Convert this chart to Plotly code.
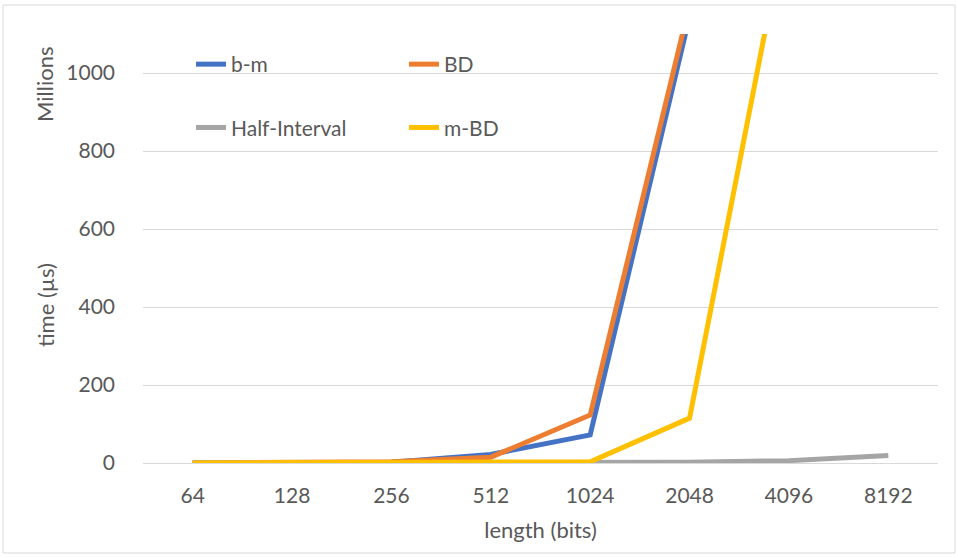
import plotly.graph_objects as go

categories = ["64", "128", "256", "512", "1024", "2048", "4096", "8192"]
b_m = [0.1, 0.5, 2, 22, 72, 1145, None, None]
bd = [0.1, 0.6, 3, 15, 123, 1175, None, None]
half_interval = [0, 0, 0.1, 0.3, 1, 2, 6, 19]
m_bd = [0, 0, 0.1, 0.5, 3, 115, 1420, None]

series = [
    ("b-m", b_m, "#4472C4", "legend"),
    ("BD", bd, "#ED7D31", "legend2"),
    ("Half-Interval", half_interval, "#A5A5A5", "legend"),
    ("m-BD", m_bd, "#FFC000", "legend2"),
]

FONT = "Lato, Carlito, Calibri, sans-serif"
GREY = "#595959"

L, R, T, B = 143, 20, 34, 95
PW, PH = 958 - L - R, 558 - T - B

fig = go.Figure()
for name, vals, color, lg in series:
    fig.add_trace(go.Scatter(
        x=categories, y=vals, name=name, mode="lines",
        line=dict(color=color, width=5),
        legend=lg, legendgroup=name, connectgaps=False,
        hoverinfo="skip",
    ))

legend_common = dict(
    font=dict(family=FONT, size=21, color=GREY),
    bgcolor="rgba(0,0,0,0)", orientation="v",
    xref="paper", yref="paper", xanchor="left", yanchor="middle",
    tracegroupgap=33, itemwidth=30,
)

fig.update_layout(
    width=958, height=558,
    margin=dict(l=L, r=R, t=T, b=B),
    paper_bgcolor="white", plot_bgcolor="white",
    font=dict(family=FONT, color=GREY),
    showlegend=True,
    legend=dict(x=(191 - L) / PW, y=(463 - 96) / PH, **legend_common),
    legend2=dict(x=(404 - L) / PW, y=(463 - 96) / PH, **legend_common),
    xaxis=dict(
        type="category", showgrid=False, showline=False, zeroline=False,
        tickfont=dict(family=FONT, size=21, color=GREY),
        ticks="", ticklabelstandoff=18,
        title=dict(text="length (bits)", font=dict(family=FONT, size=22, color=GREY), standoff=16),
        range=[-0.5, 7.5],
    ),
    yaxis=dict(
        range=[0, 1100], tickvals=[0, 200, 400, 600, 800, 1000],
        showgrid=True, gridcolor="#D9D9D9", gridwidth=1,
        zeroline=True, zerolinecolor="#D9D9D9", zerolinewidth=1,
        showline=False, ticks="", ticklabelstandoff=27,
        tickfont=dict(family=FONT, size=21, color=GREY),
    ),
    shapes=[dict(type="rect", xref="paper", yref="paper",
                 x0=-(L - 3) / PW, x1=1 + (R - 3) / PW,
                 y0=-(B - 5) / PH, y1=1 + (T - 5) / PH,
                 line=dict(color="#D9D9D9", width=1), layer="below")],
    annotations=[
        dict(text="time (µs)", xref="paper", yref="paper", x=-(L - 45) / PW, y=(463 - 305) / PH,
             textangle=-90, showarrow=False, font=dict(family=FONT, size=22, color=GREY),
             xanchor="center", yanchor="middle"),
        dict(text="Millions", xref="paper", yref="paper", x=-(L - 45) / PW, y=(463 - 85) / PH,
             textangle=-90, showarrow=False, font=dict(family=FONT, size=22, color=GREY),
             xanchor="center", yanchor="middle"),
    ],
)

fig.write_html("out.html", config={"displayModeBar": False},
               post_script="document.body.style.margin='0px';")
